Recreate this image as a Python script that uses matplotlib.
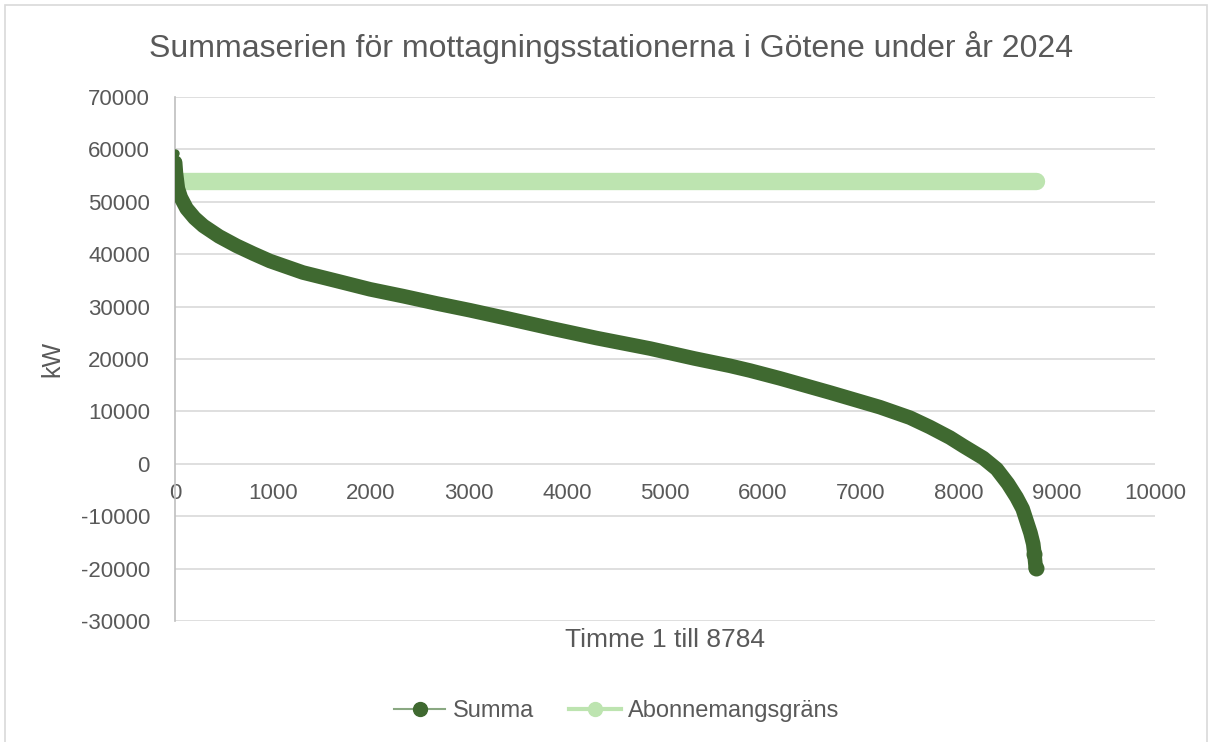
import matplotlib
matplotlib.use("Agg")
import matplotlib.pyplot as plt
from matplotlib.lines import Line2D
from matplotlib.patches import Rectangle

# avlästa punkter ur varaktighetskurvan (timme, kW)
timmar = [1, 2, 10, 30, 60, 119, 200, 290, 450, 629, 800, 969, 1306, 1650,
          1990, 2327, 2670, 3010, 3400, 3827, 4300, 4847, 5300, 5663, 5867,
          6173, 6684, 7194, 7500, 7704, 7908, 8044, 8248, 8385, 8500, 8588,
          8650, 8690, 8730, 8758, 8770, 8784]
summa = [59400, 57500, 55500, 52500, 50800, 48700, 46900, 45400, 43400, 41600,
         40100, 38700, 36500, 34900, 33300, 32000, 30600, 29300, 27700, 25900,
         24000, 22000, 20100, 18700, 17800, 16300, 13600, 10800, 8800, 7000,
         5000, 3400, 1100, -1000, -3800, -6400, -8600, -10900, -13200, -15300,
         -17200, -19900]

grans_timmar = [1, 8784]
grans = [54000, 54000]

y_ticks = [-30000, -20000, -10000, 0, 10000, 20000, 30000, 40000, 50000, 60000, 70000]
x_ticks = [0, 1000, 2000, 3000, 4000, 5000, 6000, 7000, 8000, 9000, 10000]

mork = '#3f6930'
ljus = '#bde4b0'
text_farg = '#595959'

plt.rcParams['font.family'] = ['Liberation Sans', 'DejaVu Sans']
plt.rcParams['axes.unicode_minus'] = False

fig = plt.figure(figsize=(12.09, 7.42), dpi=100)
ax = fig.add_axes([0.1447, 0.1631, 0.8106, 0.7062])

ax.plot(grans_timmar, grans, color=ljus, linewidth=12.5, solid_capstyle='round', zorder=3)
ax.plot(timmar[1:], summa[1:], color=mork, linewidth=10.5, solid_capstyle='round',
        solid_joinstyle='round', zorder=4)
# högsta timmen syns som en liten punkt ovanför bandet
ax.plot(timmar[:1], summa[:1], 'o', color=mork, markersize=5, zorder=5)
ax.plot(timmar[-2:], summa[-2:], 'o', color=mork, markersize=10.5, zorder=5)

ax.set_xlim(0, 10000)
ax.set_ylim(-30000, 70000)
ax.set_xticks(x_ticks)
ax.set_yticks(y_ticks)
ax.grid(axis='y', color='#d9d9d9', linewidth=1.2)
ax.set_axisbelow(True)

for s in ['top', 'right']:
    ax.spines[s].set_visible(False)
ax.spines['left'].set_color('#bfbfbf')
ax.spines['left'].set_linewidth(1.2)
ax.spines['bottom'].set_position(('data', 0))
ax.spines['bottom'].set_visible(False)
ax.tick_params(length=0, labelsize=16, colors=text_farg)
ax.tick_params(axis='y', pad=18)
ax.tick_params(axis='x', pad=14)

fig.text(0.5054, 0.936, 'Summaserien för mottagningsstationerna i Götene under år 2024',
         ha='center', va='center', fontsize=23, color=text_farg)
ax.set_ylabel('kW', fontsize=18, color=text_farg, labelpad=12)
fig.text(0.55, 0.137, 'Timme 1 till 8784', ha='center', va='center',
         fontsize=19, color=text_farg)

handles = [
    Line2D([], [], color='#8aa882', linewidth=1.5, marker='o', markersize=10,
           markerfacecolor=mork, markeredgecolor=mork),
    Line2D([], [], color=ljus, linewidth=3, marker='o', markersize=10,
           markerfacecolor=ljus, markeredgecolor=ljus),
]
fig.legend(handles, ['Summa', 'Abonnemangsgräns'], loc='center',
           bbox_to_anchor=(0.51, 0.042), ncol=2, frameon=False, fontsize=17,
           labelcolor=text_farg, handlelength=2.2, handletextpad=0.3,
           columnspacing=1.5)

fig.patches.append(Rectangle((0.004, -0.01), 0.994, 1.003, transform=fig.transFigure,
                             fill=False, edgecolor='#d9d9d9', linewidth=1.2))

fig.savefig('out.png', dpi=100)
